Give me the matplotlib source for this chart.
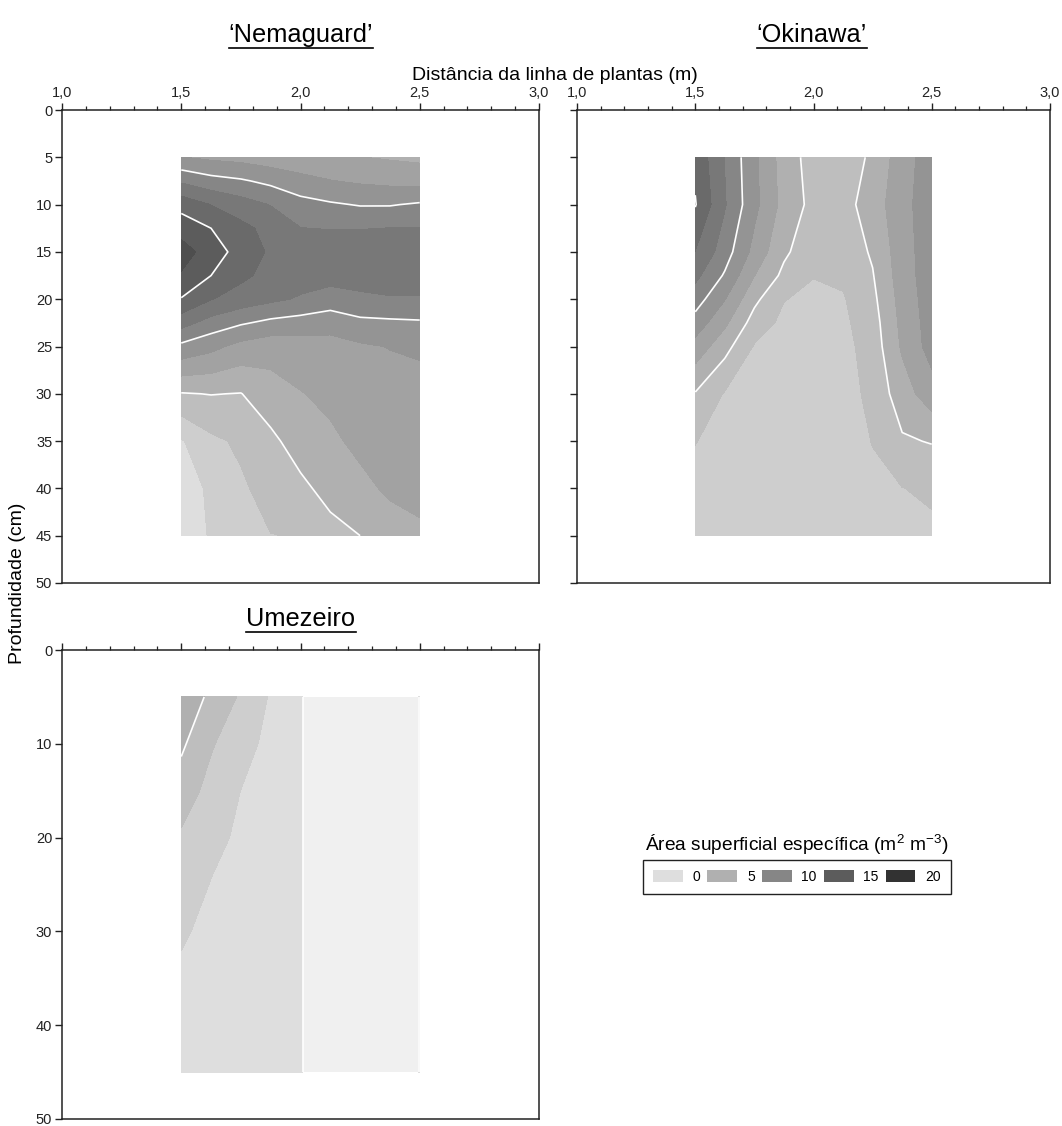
import numpy as np
import matplotlib
matplotlib.use('Agg')
import matplotlib.pyplot as plt
from matplotlib.patches import Patch
from matplotlib.lines import Line2D
from matplotlib.ticker import MultipleLocator, FuncFormatter

plt.rcParams['font.family'] = ['Liberation Sans', 'DejaVu Sans']
plt.rcParams['mathtext.fontset'] = 'custom'
plt.rcParams['mathtext.rm'] = 'Liberation Sans'
plt.rcParams['mathtext.it'] = 'Liberation Sans:italic'
plt.rcParams['mathtext.bf'] = 'Liberation Sans:bold'
plt.rcParams['mathtext.default'] = 'regular'

# ---------------- data ----------------
x_dist = [1.5, 1.625, 1.75, 1.875, 2.0, 2.125, 2.25, 2.375, 2.5]   # m

# rows = depth, columns = distance
nemaguard_depth = [5, 7.5, 10, 12.5, 15, 17.5, 20, 22.5, 25, 30, 35, 40, 45]
nemaguard = [
    [8.4, 8.0, 7.8, 7.4, 7.1, 6.9, 6.7, 6.5, 6.3],
    [11.4, 10.6, 10.2, 9.6, 8.9, 8.4, 8.1, 7.9, 7.8],
    [14.4, 13.3, 12.4, 11.6, 10.6, 10.2, 9.9, 9.9, 10.2],
    [16.0, 15.0, 13.8, 12.8, 11.7, 11.6, 11.6, 11.7, 11.7],
    [17.4, 15.9, 14.3, 13.1, 12.6, 12.7, 12.8, 12.9, 12.9],
    [16.5, 15.0, 13.7, 12.8, 12.3, 12.3, 12.4, 12.6, 12.6],
    [14.9, 13.4, 12.6, 12.0, 11.5, 10.9, 11.3, 11.5, 11.5],
    [12.3, 11.0, 10.2, 9.6, 9.3, 9.0, 9.6, 9.7, 9.8],
    [9.6, 8.8, 7.8, 7.3, 7.5, 7.7, 8.1, 8.4, 8.6],
    [4.9, 5.05, 4.95, 6.0, 6.6, 7.0, 7.3, 7.5, 7.7],
    [1.5, 3.0, 3.6, 4.6, 5.8, 6.4, 7.0, 7.4, 7.6],
    [1.0, 1.9, 3.1, 3.9, 4.6, 5.6, 6.3, 6.9, 7.1],
    [0.8, 1.8, 2.6, 3.3, 3.4, 4.4, 5.0, 6.0, 6.4],
]

okinawa_depth = [5, 10, 15, 17.5, 20, 22.5, 25, 30, 35, 40, 45]
okinawa = [
    [14.6, 11.6, 8.7, 5.9, 4.3, 4.1, 5.3, 7.6, 9.2],
    [15.1, 11.8, 8.8, 6.1, 4.5, 4.4, 5.8, 7.8, 9.3],
    [13.3, 10.8, 7.8, 5.3, 3.9, 4.0, 5.2, 7.6, 9.3],
    [12.1, 9.8, 6.7, 4.6, 3.4, 3.6, 4.9, 7.5, 9.3],
    [10.8, 8.4, 5.4, 3.4, 2.9, 3.2, 4.6, 7.3, 9.2],
    [9.3, 7.0, 4.3, 2.9, 2.6, 3.0, 4.3, 7.1, 9.1],
    [7.7, 5.6, 3.2, 2.5, 2.4, 2.8, 4.1, 6.9, 9.0],
    [4.9, 3.2, 2.6, 2.3, 2.2, 2.6, 3.8, 5.9, 7.6],
    [3.4, 2.6, 2.3, 2.2, 2.1, 2.4, 3.4, 4.8, 5.1],
    [2.6, 2.3, 2.1, 2.0, 2.0, 2.2, 2.9, 3.3, 3.6],
    [2.2, 2.0, 1.9, 1.9, 1.9, 2.0, 2.3, 2.6, 3.0],
]

umezeiro_depth = [5, 10, 15, 20, 25, 30, 35, 40, 45]
umezeiro = [
    [6.0, 4.7, 3.1, 1.5, 0.05, -0.6, -0.6, -0.6, 0.02],
    [5.3, 3.5, 2.3, 1.2, 0.05, -0.6, -0.6, -0.6, 0.02],
    [4.2, 2.8, 1.65, 1.0, 0.05, -0.6, -0.6, -0.6, 0.02],
    [3.1, 2.1, 1.4, 0.9, 0.05, -0.6, -0.6, -0.6, 0.02],
    [2.5, 1.6, 1.2, 0.8, 0.05, -0.6, -0.6, -0.6, 0.02],
    [1.85, 1.3, 1.05, 0.7, 0.05, -0.6, -0.6, -0.6, 0.02],
    [1.4, 1.1, 0.95, 0.65, 0.05, -0.6, -0.6, -0.6, 0.02],
    [1.1, 0.95, 0.85, 0.6, 0.05, -0.6, -0.6, -0.6, 0.02],
    [0.9, 0.85, 0.75, 0.55, 0.05, -0.6, -0.6, -0.6, 0.02],
]

panel_titles = ["\u2018Nemaguard\u2019", "\u2018Okinawa\u2019", "Umezeiro"]
legend_values = [0, 5, 10, 15, 20]
line_levels = [0, 5, 10, 15, 20]
xlabel = "Dist\u00e2ncia da linha de plantas (m)"
ylabel = "Profundidade (cm)"
legend_title = "\u00c1rea superficial espec\u00edfica (m$^2$ m$^{-3}$)"

# ---------------- style ----------------
step = 5.0 / 3.0
fill_levels = np.linspace(-step, 20.0, 14)
band_gray = [240, 222, 206, 190, 176, 162, 148, 134, 120, 106, 92, 78, 64, 50]
band_colors = ['#%02x%02x%02x' % (g, g, g) for g in band_gray[:13]]


def legend_color(v):
    i = int(round(v / step)) + 1
    g = band_gray[i]
    return '#%02x%02x%02x' % (g, g, g)


W, H = 1062, 1126
fig = plt.figure(figsize=(W / 100, H / 100), dpi=100)

def rect(l, t, r, b):
    return [l / W, 1 - b / H, (r - l) / W, (b - t) / H]

ax1 = fig.add_axes(rect(62, 110, 539, 583))
ax2 = fig.add_axes(rect(577, 110, 1050, 583))
ax3 = fig.add_axes(rect(62, 650, 539, 1119))

comma = FuncFormatter(lambda v, p: ("%.1f" % v).replace('.', ','))

for ax, depth, data, ystep in [(ax1, nemaguard_depth, nemaguard, 5),
                               (ax2, okinawa_depth, okinawa, 5),
                               (ax3, umezeiro_depth, umezeiro, 10)]:
    Z = np.array(data)
    ax.contourf(x_dist, depth, Z, levels=fill_levels, colors=band_colors)
    ax.contour(x_dist, depth, Z, levels=line_levels, colors='white', linewidths=1.2)
    ax.set_xlim(1.0, 3.0)
    ax.set_ylim(50, 0)
    ax.xaxis.tick_top()
    ax.xaxis.set_major_locator(MultipleLocator(0.5))
    ax.xaxis.set_minor_locator(MultipleLocator(0.1))
    ax.xaxis.set_major_formatter(comma)
    ax.yaxis.set_major_locator(MultipleLocator(ystep))
    ax.tick_params(which='both', direction='out', top=True, bottom=False,
                   left=True, right=False, labelsize=10.5, colors='#222222',
                   labelcolor='#222222')
    ax.tick_params(which='major', length=5, width=1.0, pad=2)
    ax.tick_params(which='minor', length=3, width=0.9)
    ax.tick_params(axis='y', which='minor', left=False)
    for s in ax.spines.values():
        s.set_linewidth(1.1)
        s.set_color('#222222')

ax2.tick_params(axis='y', labelleft=False)
ax3.tick_params(axis='x', labeltop=False)

# titles
t1 = fig.text(301 / W, 1 - 42 / H, panel_titles[0], ha='center', va='baseline', fontsize=18.3)
t2 = fig.text(812 / W, 1 - 42 / H, panel_titles[1], ha='center', va='baseline', fontsize=18.3)
t3 = fig.text(301 / W, 1 - 626 / H, panel_titles[2], ha='center', va='baseline', fontsize=18.3)

fig.text(555 / W, 1 - 80 / H, xlabel, ha='center', va='baseline', fontsize=14)
fig.text(18 / W, 1 - 583 / H, ylabel, ha='center', va='center', rotation=90, fontsize=14)

fig.text(797 / W, 1 - 851 / H, legend_title, ha='center', va='baseline', fontsize=13.8)

handles = [Patch(facecolor=legend_color(v), edgecolor='none', label=str(v)) for v in legend_values]
leg = fig.legend(handles=handles, loc='center', bbox_to_anchor=(797 / W, 1 - 877 / H),
                 ncol=5, frameon=True, fancybox=False, edgecolor='#222222', fontsize=10,
                 handlelength=2.15, handleheight=1.0, handletextpad=0.7, columnspacing=0.5,
                 borderpad=0.75, framealpha=1)
leg.get_frame().set_linewidth(1.0)

# underline titles
fig.canvas.draw()
renderer = fig.canvas.get_renderer()
for t in (t1, t2, t3):
    bb = t.get_window_extent(renderer)
    x0, y0 = fig.transFigure.inverted().transform((bb.x0, bb.y0 - 1))
    x1, _ = fig.transFigure.inverted().transform((bb.x1, bb.y0 - 1))
    fig.add_artist(Line2D([x0, x1], [y0, y0], transform=fig.transFigure,
                          color='black', linewidth=1.2))

fig.savefig('out.png', dpi=100)
